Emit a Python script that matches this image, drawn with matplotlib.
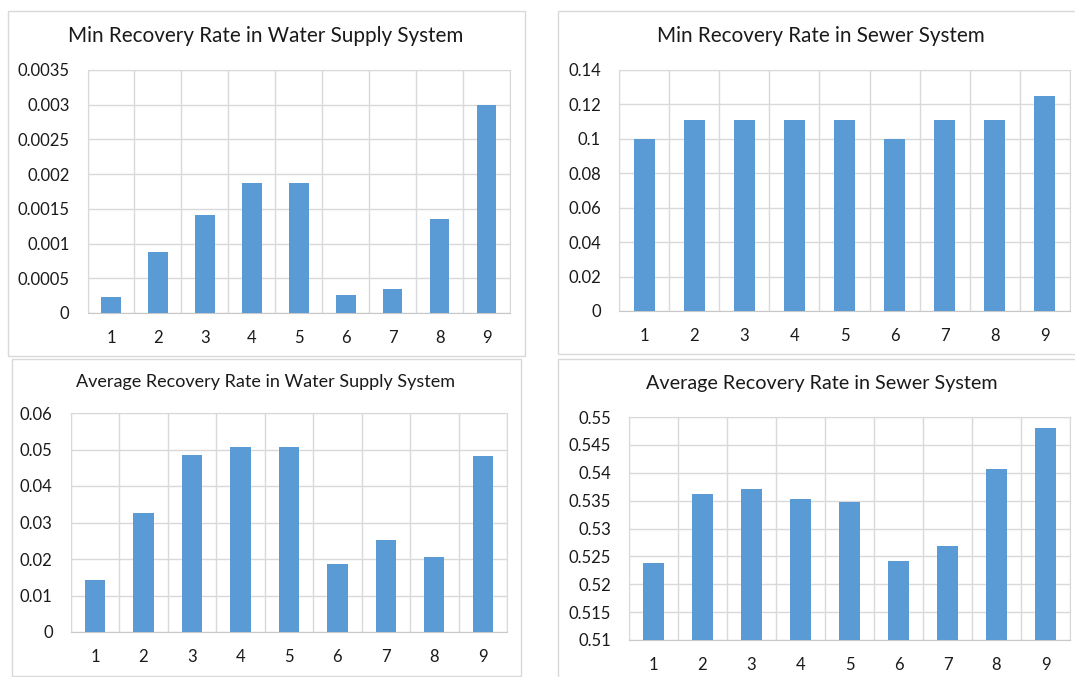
import numpy as np
import matplotlib.pyplot as plt
from matplotlib.patches import Rectangle
from matplotlib.ticker import FixedLocator

plt.rcParams['font.family'] = ['Lato', 'DejaVu Sans']

# data
scenarios = [1, 2, 3, 4, 5, 6, 7, 8, 9]
min_water = [0.000235, 0.00088, 0.001415, 0.001868, 0.001866, 0.000254, 0.000346, 0.00135, 0.00299]
min_sewer = [0.1, 0.1111, 0.1111, 0.1111, 0.1111, 0.1, 0.1111, 0.1111, 0.125]
avg_water = [0.01416, 0.0327, 0.0486, 0.0508, 0.0507, 0.01863, 0.0251, 0.0206, 0.0482]
avg_sewer = [0.5239, 0.5361, 0.5371, 0.5353, 0.5348, 0.5241, 0.5268, 0.5407, 0.5480]

W, H = 1075, 677
fig = plt.figure(figsize=(W / 100, H / 100), dpi=100)

BLUE = '#5B9BD5'
GRID = '#d9d9d9'


def box(x0, y0, x1, y1):
    # pixel box (top-left origin) -> figure fraction
    return [x0 / W, 1 - y1 / H, (x1 - x0) / W, (y1 - y0) / H]


def panel_border(x0, y0, x1, y1):
    b = box(x0, y0, x1, y1)
    fig.patches.append(Rectangle((b[0], b[1]), b[2], b[3], transform=fig.transFigure,
                                 fill=False, edgecolor=GRID, linewidth=1.0))


def bar_chart(pos, vals, ymin, ymax, step, labels, title, title_xy, title_size):
    ax = fig.add_axes(box(*pos))
    ax.bar(scenarios, vals, width=0.42, color=BLUE, zorder=3)
    ax.set_xlim(0.5, 9.5)
    ax.set_ylim(ymin, ymax)
    ax.yaxis.set_major_locator(FixedLocator(np.arange(len(labels)) * step + ymin))
    ax.set_yticklabels(labels)
    ax.set_xticks(scenarios)
    ax.xaxis.set_minor_locator(FixedLocator(np.arange(0.5, 10, 1)))
    ax.grid(axis='y', which='major', color=GRID, linewidth=1.0, zorder=0)
    ax.grid(axis='x', which='minor', color=GRID, linewidth=1.0, zorder=0)
    ax.tick_params(axis='both', which='both', length=0, labelsize=12, colors='#1a1a1a')
    ax.tick_params(axis='x', pad=12)
    ax.tick_params(axis='y', pad=13)
    for s in ['top', 'right', 'left']:
        ax.spines[s].set_color(GRID)
    ax.spines['bottom'].set_color('#c8c8c8')
    ax.set_axisbelow(True)
    fig.text(title_xy[0] / W, 1 - title_xy[1] / H, title, ha='center', va='center',
             fontsize=title_size, color='#1a1a1a')
    return ax


panel_border(8, 11, 525, 356)
panel_border(558, 11, 1085, 354)
panel_border(12, 359, 521, 676)
panel_border(558, 359, 1085, 690)

bar_chart((87.5, 70, 510, 313), min_water, 0, 0.0035, 0.0005,
          ['0', '0.0005', '0.001', '0.0015', '0.002', '0.0025', '0.003', '0.0035'],
          'Min Recovery Rate in Water Supply System', (266, 36), 14.9)
bar_chart((619, 70, 1070, 311), min_sewer, 0, 0.14, 0.02,
          ['0', '0.02', '0.04', '0.06', '0.08', '0.1', '0.12', '0.14'],
          'Min Recovery Rate in Sewer System', (821, 36), 14.9)
bar_chart((70.7, 413, 507, 632), avg_water, 0, 0.06, 0.01,
          ['0', '0.01', '0.02', '0.03', '0.04', '0.05', '0.06'],
          'Average Recovery Rate in Water Supply System', (266, 382), 13)
bar_chart((629, 417, 1070, 640), avg_sewer, 0.51, 0.55, 0.005,
          ['0.51', '0.515', '0.52', '0.525', '0.53', '0.535', '0.54', '0.545', '0.55'],
          'Average Recovery Rate in Sewer System', (822, 383), 14.2)

fig.savefig('out.png', dpi=100)
